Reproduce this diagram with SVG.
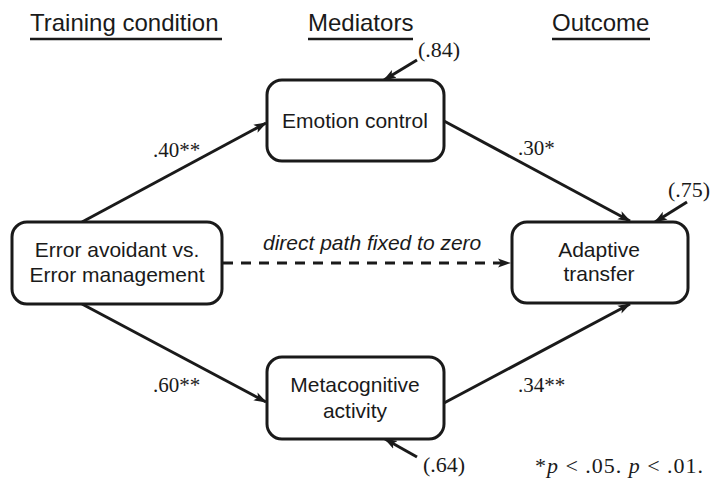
<svg xmlns="http://www.w3.org/2000/svg" width="713" height="480" viewBox="0 0 713 480">
<style>
.hdr{font-family:"Liberation Sans",Arial,sans-serif;font-size:24px;fill:#1a1a1a}
.lbl{font-family:"Liberation Sans",Arial,sans-serif;font-size:21px;fill:#1a1a1a;text-anchor:middle}
.num{font-family:"Liberation Serif","Times New Roman",serif;font-size:21px;fill:#1a1a1a}
.res{font-family:"Liberation Serif","Times New Roman",serif;font-size:22px;fill:#1a1a1a}
.box{fill:#fff;stroke:#1a1a1a;stroke-width:3}
.ul{stroke:#1a1a1a;stroke-width:2.5}
.edge{stroke:#1a1a1a;stroke-width:3;fill:none;marker-end:url(#ah)}
.dash{stroke-dasharray:10 8}
</style>
<defs>
<marker id="ah" markerUnits="userSpaceOnUse" markerWidth="13" markerHeight="10" refX="12" refY="5" orient="auto">
<path d="M0,0.5 L13,5 L0,9.5 L3,5 z" fill="#1a1a1a"/>
</marker>
</defs>
<g id="headers">
<text class="hdr" x="30" y="31">Training condition</text>
<line class="ul" x1="30" y1="39" x2="222" y2="39"/>
<text class="hdr" x="308" y="31">Mediators</text>
<line class="ul" x1="308" y1="39" x2="413" y2="39"/>
<text class="hdr" x="552" y="31">Outcome</text>
<line class="ul" x1="552" y1="39" x2="650" y2="39"/>
</g>
<g id="connectors">
<line class="edge" x1="82" y1="222" x2="266" y2="123"/>
<line class="edge" x1="82" y1="304" x2="266" y2="402"/>
<line class="edge" x1="444" y1="121" x2="630" y2="221"/>
<line class="edge" x1="444" y1="403" x2="630" y2="304"/>
<line class="edge dash" x1="223" y1="263" x2="510" y2="263"/>
<line class="edge" x1="417" y1="60" x2="384" y2="80"/>
<line class="edge" x1="687" y1="202" x2="655" y2="222"/>
<line class="edge" x1="417" y1="457" x2="385" y2="439"/>
<text class="num" x="153" y="157">.40**</text>
<text class="num" x="518" y="155">.30*</text>
<text class="num" x="153" y="392">.60**</text>
<text class="num" x="518" y="392">.34**</text>
<text x="263" y="250" style="font-family:'Liberation Sans',Arial,sans-serif;font-size:21px;font-style:italic;fill:#1a1a1a">direct path fixed to zero</text>
<text class="res" x="418" y="57">(.84)</text>
<text class="res" x="668" y="197">(.75)</text>
<text class="res" x="423" y="472">(.64)</text>
</g>
<g id="error">
<rect class="box" x="12" y="222" width="210" height="82" rx="15"/>
<text class="lbl" x="117" y="257">Error avoidant vs.</text>
<text class="lbl" x="117" y="282">Error management</text>
</g>
<g id="emotion">
<rect class="box" x="267" y="80" width="177" height="81" rx="15"/>
<text class="lbl" x="355" y="128">Emotion control</text>
</g>
<g id="adaptive">
<rect class="box" x="512" y="222" width="176" height="81" rx="15"/>
<text class="lbl" x="599" y="257">Adaptive</text>
<text class="lbl" x="599" y="281">transfer</text>
</g>
<g id="meta">
<rect class="box" x="267" y="357" width="177" height="82" rx="15"/>
<text class="lbl" x="355" y="392">Metacognitive</text>
<text class="lbl" x="355" y="418">activity</text>
</g>
<g id="footnote">
<text class="res" x="535" y="473" textLength="168" lengthAdjust="spacing">*<tspan font-style="italic">p</tspan> &lt; .05. <tspan font-style="italic">p</tspan> &lt; .01.</text>
</g>
</svg>
